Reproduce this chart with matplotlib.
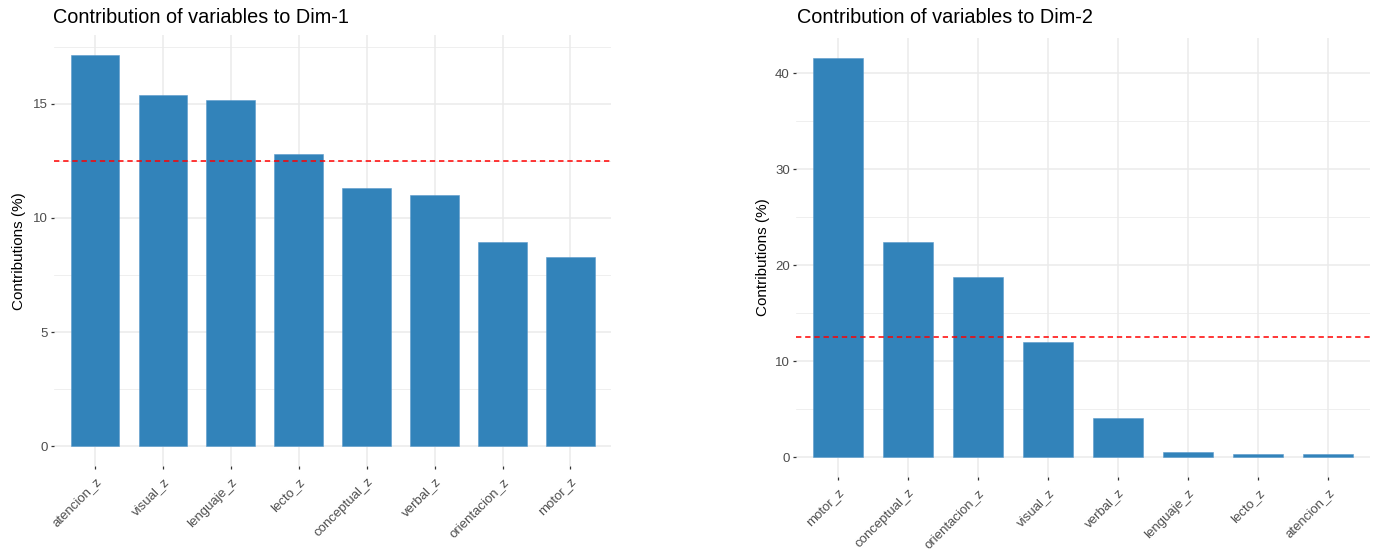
import matplotlib
matplotlib.use("Agg")
import matplotlib.pyplot as plt
import numpy as np

plt.rcParams['font.family'] = ['Liberation Sans', 'DejaVu Sans']

dim1_vars = ["atencion_z", "visual_z", "lenguaje_z", "lecto_z",
             "conceptual_z", "verbal_z", "orientacion_z", "motor_z"]
dim1_vals = [17.13, 15.37, 15.14, 12.79, 11.29, 10.99, 8.95, 8.29]

dim2_vars = ["motor_z", "conceptual_z", "orientacion_z", "visual_z",
             "verbal_z", "lenguaje_z", "lecto_z", "atencion_z"]
dim2_vals = [41.6, 22.4, 18.8, 11.98, 4.1, 0.55, 0.32, 0.3]

titles = ["Contribution of variables to Dim-1", "Contribution of variables to Dim-2"]
ylabel = "Contributions (%)"
expected = 100.0 / len(dim1_vars)

W, H = 1374, 554
fig = plt.figure(figsize=(W / 100, H / 100), dpi=100)

BAR = '#3283BA'
GRID = '#EBEBEB'

def px_axes(left, right, top, bottom):
    return fig.add_axes([left / W, 1 - bottom / H, (right - left) / W, (bottom - top) / H])

panels = [
    dict(vars=dim1_vars, vals=dim1_vals, box=(54.3, 611.2, 35.4, 466.0),
         major=[0, 5, 10, 15], minor=[2.5, 7.5, 12.5, 17.5], title_x=53, ylab_x=26),
    dict(vars=dim2_vars, vals=dim2_vals, box=(796, 1370, 37.7, 477.0),
         major=[0, 10, 20, 30, 40], minor=[5, 15, 25, 35], title_x=797, ylab_x=770),
]

for p, title in zip(panels, titles):
    ax = px_axes(*p['box'])
    vals = np.array(p['vals'])
    n = len(p['vars'])
    x = np.arange(1, n + 1)
    top = vals.max()
    ax.set_xlim(0.4, n + 0.6)
    ax.set_ylim(-0.05 * top, top * 1.05)
    ax.set_yticks(p['major'])
    ax.set_yticks(p['minor'], minor=True)
    ax.set_xticks(x)
    ax.grid(True, which='major', color=GRID, linewidth=1.1, zorder=0)
    ax.grid(True, which='minor', axis='y', color=GRID, linewidth=0.55, zorder=0)
    ax.set_axisbelow(True)
    for s in ax.spines.values():
        s.set_visible(False)
    ax.bar(x, vals, width=0.72, color=BAR, edgecolor='#5A9ACB', linewidth=0.4, zorder=2)
    ax.axhline(expected, color='#FF0000', linewidth=1.1, linestyle=(0, (3.5, 2.5)), zorder=3)
    ax.tick_params(axis='both', which='major', direction='out', length=2.5, width=0.9,
                   color='#333333', labelcolor='#4D4D4D', labelsize=9.5, pad=2)
    ax.tick_params(axis='x', which='major', pad=4.5)
    ax.tick_params(axis='both', which='minor', length=0)
    ax.set_xticklabels(p['vars'], rotation=45, ha='right', va='top', rotation_mode='anchor')
    ax.set_yticklabels([str(v) for v in p['major']])
    fig.text(p['title_x'] / W, 1 - 23 / H, title, fontsize=14.3, color='black',
             ha='left', va='baseline')
    ax.set_ylabel(ylabel, fontsize=11, color='black')
    ax.yaxis.set_label_coords((p['ylab_x'] - p['box'][0]) / (p['box'][1] - p['box'][0]), 0.5)

fig.savefig("out.png", dpi=100)
